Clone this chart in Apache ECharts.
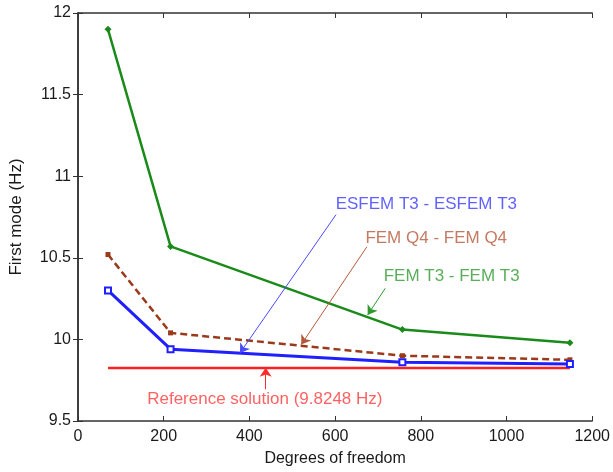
<!DOCTYPE html>
<html>
<head>
<meta charset="utf-8">
<script src="https://cdn.jsdelivr.net/npm/echarts@6/dist/echarts.min.js"></script>
<style>
  html, body { margin: 0; padding: 0; background: #fff; }
  #chart { width: 613px; height: 472px; }
</style>
</head>
<body>
<div id="chart"></div>
<script>
// degrees of freedom for each mesh
const dofs = [70, 216, 757, 1148];
const femT3 = [11.90, 10.57, 10.06, 9.98];
const esfemT3 = [10.30, 9.94, 9.86, 9.85];
const femQ4 = [10.52, 10.04, 9.90, 9.875];
const refValue = 9.8248;

// annotation text: [x, y, text, colour]
const notes = [
  [813, 10.83, "ESFEM T3 - ESFEM T3", "#3a3aff"],
  [836, 10.62, "FEM Q4 - FEM Q4", "#b5583a"],
  [872, 10.385, "FEM T3 - FEM T3", "#2f9a2f"],
  [436, 9.634, "Reference solution (9.8248 Hz)", "#ff3a3a"]
];
// arrows: from -> to, colour
const arrows = [
  [[602, 10.764], [378, 9.917], "#4a4aff"],
  [[674, 10.567], [521, 9.968], "#b5583a"],
  [[717, 10.313], [676, 10.15], "#2f9a2f"],
  [[438, 9.695], [438, 9.826], "#ff2a2a"]
];

const pair = (ys) => dofs.map((x, i) => [x, ys[i]]);
const font = "Liberation Sans, Arial, sans-serif";

const axisBase = {
  axisLine: { lineStyle: { color: "#333", width: 1.5 } },
  axisTick: { inside: true, length: 5, lineStyle: { color: "#333" } },
  splitLine: { show: false }
};

const chart = echarts.init(document.getElementById("chart"));
chart.setOption({
  animation: false,
  grid: { left: 76, right: 17, top: 13, bottom: 48 },
  xAxis: [
    Object.assign({}, axisBase, {
      type: "value", min: 0, max: 1200, interval: 200,
      name: "Degrees of freedom", nameLocation: "middle", nameGap: 30,
      nameTextStyle: { fontFamily: font, fontSize: 16, color: "#1a1a1a" },
      axisLabel: { fontFamily: font, fontSize: 16, color: "#1a1a1a", margin: 8,
        formatter: (v) => String(v) }
    }),
    Object.assign({}, axisBase, {
      type: "value", min: 0, max: 1200, interval: 200, position: "top",
      axisLabel: { show: false }
    })
  ],
  yAxis: [
    Object.assign({}, axisBase, {
      type: "value", min: 9.5, max: 12, interval: 0.5,
      name: "First mode (Hz)", nameLocation: "middle", nameGap: 53,
      nameTextStyle: { fontFamily: font, fontSize: 17, color: "#1a1a1a" },
      axisLabel: { fontFamily: font, fontSize: 16, color: "#1a1a1a", margin: 7 }
    }),
    Object.assign({}, axisBase, {
      type: "value", min: 9.5, max: 12, interval: 0.5, position: "right",
      axisLabel: { show: false }
    })
  ],
  series: [
    {
      name: "Reference", type: "line", symbol: "none",
      data: [[dofs[0], refValue], [dofs[dofs.length - 1], refValue]],
      lineStyle: { color: "#ff2020", width: 2.5 }
    },
    {
      name: "FEM Q4", type: "line", data: pair(femQ4),
      symbol: "rect", symbolSize: 5,
      itemStyle: { color: "#9b3a1a" },
      lineStyle: { color: "#9b3a1a", width: 2.5, type: [7, 4] }
    },
    {
      name: "ESFEM T3", type: "line", data: pair(esfemT3),
      symbol: "emptyRect", symbolSize: 6,
      itemStyle: { color: "#1f1fff", borderWidth: 2 },
      lineStyle: { color: "#1f1fff", width: 3 }
    },
    {
      name: "FEM T3", type: "line", data: pair(femT3),
      symbol: "diamond", symbolSize: 7,
      itemStyle: { color: "#1a8a1a" },
      lineStyle: { color: "#1a8a1a", width: 2.5 },
      markLine: {
        silent: true, symbol: ["none", "arrow"], symbolSize: 9,
        label: { show: false },
        data: arrows.map((a) => [
          { coord: a[0], lineStyle: { color: a[2], width: 1, type: "solid" }, itemStyle: { color: a[2] } },
          { coord: a[1] }
        ])
      }
    },
    {
      name: "notes", type: "scatter", symbolSize: 0,
      data: notes.map((n) => ({
        value: [n[0], n[1]],
        label: {
          show: true, position: "inside", formatter: n[2],
          fontFamily: font, fontSize: 17, color: n[3]
        }
      }))
    }
  ]
});
</script>
</body>
</html>
